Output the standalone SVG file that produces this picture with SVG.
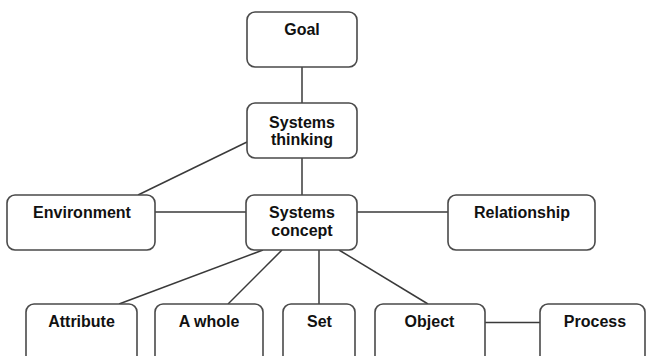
<svg xmlns="http://www.w3.org/2000/svg" width="646" height="356" viewBox="0 0 646 356">
  <style>
    .box { fill: #ffffff; stroke: #4a4a4a; stroke-width: 1.6; }
    .link { stroke: #3a3a3a; stroke-width: 1.5; fill: none; }
    .lbl { font-family: "Liberation Sans", Arial, Helvetica, sans-serif; font-weight: bold; font-size: 16px; fill: #111111; text-anchor: middle; }
  </style>
  <rect width="646" height="356" fill="#ffffff"/>

  <!-- connectors -->
  <g id="connectors">
    <line class="link" x1="302" y1="67" x2="302" y2="103"/>
    <line class="link" x1="302" y1="158" x2="302" y2="195"/>
    <line class="link" x1="247" y1="142" x2="138" y2="195"/>
    <line class="link" x1="155" y1="212" x2="246" y2="212"/>
    <line class="link" x1="357" y1="212" x2="448" y2="212"/>
    <line class="link" x1="263" y1="250" x2="119" y2="304"/>
    <line class="link" x1="282" y1="250" x2="228" y2="304"/>
    <line class="link" x1="319" y1="250" x2="319" y2="304"/>
    <line class="link" x1="339" y1="250" x2="428" y2="304"/>
    <line class="link" x1="485" y1="322.5" x2="540" y2="322.5"/>
  </g>

  <g id="goal">
    <rect class="box" x="247" y="12" width="110" height="55" rx="8"/>
    <text class="lbl" x="302" y="35">Goal</text>
  </g>

  <g id="systems-thinking">
    <rect class="box" x="247" y="103" width="110" height="55" rx="8"/>
    <text class="lbl" x="302" y="127.5">Systems</text>
    <text class="lbl" x="302" y="145">thinking</text>
  </g>

  <g id="environment">
    <rect class="box" x="7" y="195" width="148" height="55" rx="8"/>
    <text class="lbl" x="82" y="217.5">Environment</text>
  </g>

  <g id="systems-concept">
    <rect class="box" x="246" y="195" width="111" height="55" rx="8"/>
    <text class="lbl" x="302" y="217.5">Systems</text>
    <text class="lbl" x="302" y="235.5">concept</text>
  </g>

  <g id="relationship">
    <rect class="box" x="448" y="195" width="147" height="55" rx="8"/>
    <text class="lbl" x="522" y="217.5">Relationship</text>
  </g>

  <g id="attribute">
    <rect class="box" x="26" y="304" width="111" height="70" rx="8"/>
    <text class="lbl" x="81.5" y="327">Attribute</text>
  </g>

  <g id="a-whole">
    <rect class="box" x="155" y="304" width="108" height="70" rx="8"/>
    <text class="lbl" x="209" y="327">A whole</text>
  </g>

  <g id="set">
    <rect class="box" x="283" y="304" width="72" height="70" rx="8"/>
    <text class="lbl" x="319.5" y="327">Set</text>
  </g>

  <g id="object">
    <rect class="box" x="375" y="304" width="110" height="70" rx="8"/>
    <text class="lbl" x="429.5" y="327">Object</text>
  </g>

  <g id="process">
    <rect class="box" x="540" y="304" width="105" height="70" rx="8"/>
    <text class="lbl" x="595" y="327">Process</text>
  </g>
</svg>
